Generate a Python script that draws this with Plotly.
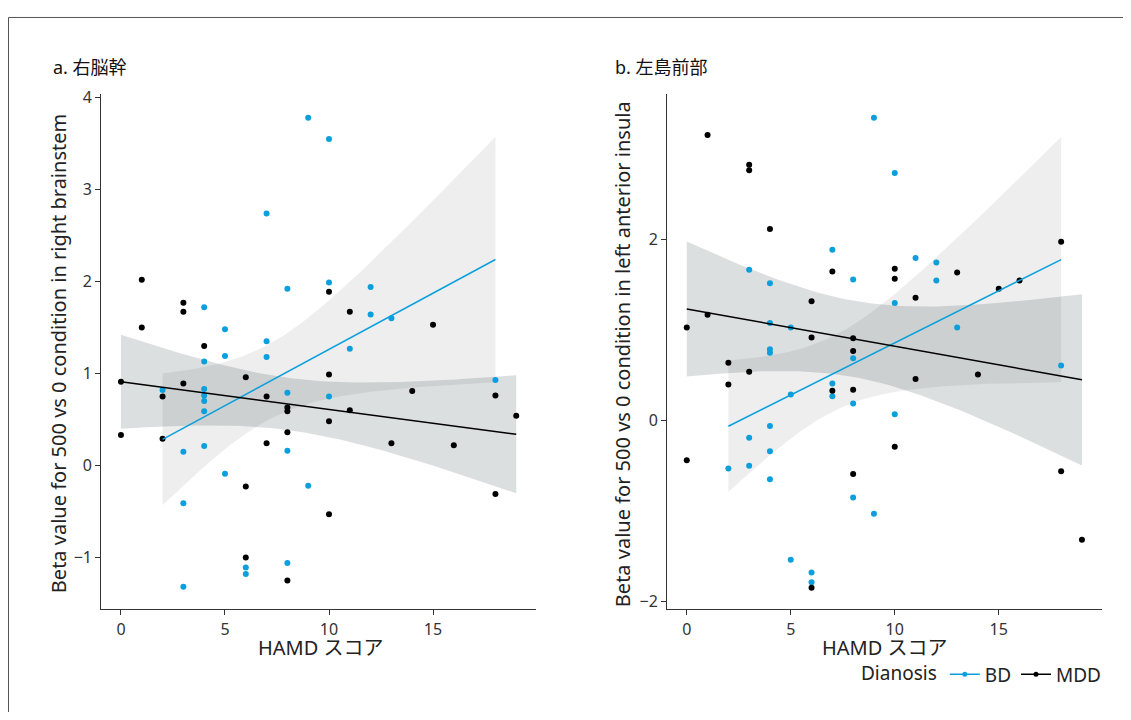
import numpy as np
import plotly.graph_objects as go
from plotly.subplots import make_subplots

# ---- data: panel a (right brainstem) ----
a_bd_x = [9, 7, 8, 4, 5, 7, 10, 10, 12, 12, 13, 11, 4, 5, 7, 2, 4, 4, 4, 4, 8, 3, 4, 8, 5, 9, 3, 6, 6, 8, 3, 10, 18]
a_bd_y = [3.78, 2.74, 1.92, 1.72, 1.48, 1.35, 3.55, 1.99, 1.94, 1.64, 1.60, 1.27, 1.13, 1.19, 1.18, 0.82, 0.83, 0.76,
          0.70, 0.59, 0.79, 0.15, 0.21, 0.16, -0.09, -0.22, -0.41, -1.11, -1.18, -1.06, -1.32, 0.75, 0.93]
a_mdd_x = [1, 3, 3, 1, 4, 10, 11, 15, 0, 2, 3, 6, 7, 8, 8, 0, 2, 7, 8, 6, 6, 8, 10, 11, 10, 13, 14, 16, 18, 19, 10, 18]
a_mdd_y = [2.02, 1.77, 1.67, 1.50, 1.30, 1.89, 1.67, 1.53, 0.91, 0.75, 0.89, 0.96, 0.75, 0.63, 0.59, 0.33, 0.29, 0.24,
           0.36, -0.23, -1.00, -1.25, 0.99, 0.60, 0.48, 0.24, 0.81, 0.22, 0.76, 0.54, -0.53, -0.31]

# ---- data: panel b (left anterior insula) ----
b_bd_x = [9, 7, 3, 4, 8, 4, 5, 4, 10, 11, 12, 12, 10, 13, 4, 8, 7, 7, 5, 8, 4, 3, 4, 2, 3, 4, 8, 9, 5, 6, 6, 18, 10]
b_bd_y = [3.35, 1.89, 1.67, 1.52, 1.56, 1.08, 1.03, 0.79, 2.74, 1.80, 1.75, 1.55, 1.30, 1.03, 0.75, 0.69, 0.41, 0.27,
          0.29, 0.19, -0.06, -0.19, -0.34, -0.53, -0.50, -0.65, -0.85, -1.03, -1.54, -1.68, -1.79, 0.61, 0.07]
b_mdd_x = [1, 3, 3, 4, 7, 6, 1, 0, 6, 8, 8, 10, 10, 11, 13, 15, 16, 18, 2, 3, 2, 7, 8, 0, 8, 6, 11, 14, 10, 18, 19]
b_mdd_y = [3.16, 2.83, 2.77, 2.12, 1.65, 1.32, 1.17, 1.03, 0.92, 0.91, 0.77, 1.68, 1.57, 1.36, 1.64, 1.46, 1.55, 1.98,
           0.64, 0.54, 0.40, 0.33, 0.34, -0.44, -0.59, -1.85, 0.46, 0.51, -0.29, -0.56, -1.32]

x_ticks = [0, 5, 10, 15]
a_y_ticks = [-1, 0, 1, 2, 3, 4]
b_y_ticks = [-2, 0, 2]
panel_titles = ["a. 右脳幹", "b. 左島前部"]
y_titles = ["Beta value for 500 vs 0 condition in right brainstem",
            "Beta value for 500 vs 0 condition in left anterior insula"]
x_title = "HAMD スコア"
groups = ["BD", "MDD"]

BLUE = "#0BA0DD"
BLACK = "#000000"
FILL = {"BD": "rgba(0,0,0,0.065)", "MDD": "rgba(10,25,25,0.14)"}
FONT = "Noto Sans, Noto Sans CJK JP, sans-serif"

# figure size (page body has an 8px margin)
W, H = 1115, 704
OFF = 8


def PX(px):
    return (px - OFF) / W


def PY(py):
    return 1 - (py - OFF) / H


def lm_fit(x, y):
    x = np.asarray(x, float)
    y = np.asarray(y, float)
    n = len(x)
    b1, b0 = np.polyfit(x, y, 1)
    resid = y - (b0 + b1 * x)
    s = np.sqrt(np.sum(resid ** 2) / (n - 2))
    xm = x.mean()
    sxx = np.sum((x - xm) ** 2)
    df = n - 2
    z = 1.959964
    t = z + (z ** 3 + z) / (4 * df) + (5 * z ** 5 + 16 * z ** 3 + 3 * z) / (96 * df ** 2)
    grid = np.linspace(x.min(), x.max(), 80)
    fit = b0 + b1 * grid
    se = s * np.sqrt(1 / n + (grid - xm) ** 2 / sxx)
    return grid, fit, fit - t * se, fit + t * se


fig = make_subplots(rows=1, cols=2)

panels = [
    (1, {"BD": (a_bd_x, a_bd_y), "MDD": (a_mdd_x, a_mdd_y)}),
    (2, {"BD": (b_bd_x, b_bd_y), "MDD": (b_mdd_x, b_mdd_y)}),
]

for col, data in panels:
    for g in groups:
        gx, gf, lo, hi = lm_fit(*data[g])
        fig.add_trace(go.Scatter(
            x=np.concatenate([gx, gx[::-1]]), y=np.concatenate([hi, lo[::-1]]),
            fill="toself", fillcolor=FILL[g], line=dict(width=0), mode="lines",
            hoverinfo="skip", showlegend=False), row=1, col=col)
    for g in groups:
        px, py = data[g]
        fig.add_trace(go.Scatter(
            x=px, y=py, mode="markers",
            marker=dict(color=BLUE if g == "BD" else BLACK, size=6),
            showlegend=False), row=1, col=col)
    for g in groups:
        gx, gf, lo, hi = lm_fit(*data[g])
        fig.add_trace(go.Scatter(
            x=gx, y=gf, mode="lines",
            line=dict(color=BLUE if g == "BD" else BLACK, width=1.5),
            showlegend=False), row=1, col=col)

for g in groups:
    fig.add_trace(go.Scatter(
        x=[None], y=[None], mode="lines+markers", name=g,
        line=dict(color=BLUE if g == "BD" else BLACK, width=1.5),
        marker=dict(color=BLUE if g == "BD" else BLACK, size=5)), row=1, col=1)

ydom = [PY(610), PY(87.5)]
axis_common = dict(showline=True, linecolor="#333333", linewidth=1, ticks="outside", ticklen=5,
                   tickcolor="#333333", showgrid=False, zeroline=False,
                   tickfont=dict(family=FONT, size=16, color="#333333"))

fig.update_xaxes(**axis_common, tickvals=x_ticks)
fig.update_yaxes(**axis_common)
fig.update_layout(
    xaxis=dict(domain=[PX(101.2), PX(536)], range=[-0.95, 19.95]),
    xaxis2=dict(domain=[PX(667), PX(1101.7)], range=[-0.95, 19.95]),
    yaxis=dict(domain=ydom, range=[-1.566, 4.035], tickvals=a_y_ticks),
    yaxis2=dict(domain=ydom, range=[-2.09, 3.61], tickvals=b_y_ticks),
)

ann = []
for i, (tx, yx, xc) in enumerate([(51, 58, 320.5), (613, 622, 885)]):
    ann.append(dict(text=panel_titles[i], x=PX(tx), y=PY(60), xref="paper", yref="paper",
                    xanchor="left", yanchor="middle", showarrow=False,
                    font=dict(family=FONT, size=18, color="#111111")))
    ann.append(dict(text=y_titles[i], x=PX(yx), y=PY(351), xref="paper", yref="paper",
                    textangle=-90, xanchor="center", yanchor="middle", showarrow=False,
                    font=dict(family=FONT, size=20, color="#222222")))
    ann.append(dict(text=x_title, x=PX(xc), y=PY(649), xref="paper", yref="paper",
                    xanchor="center", yanchor="middle", showarrow=False,
                    font=dict(family=FONT, size=20, color="#222222")))

fig.update_layout(
    width=W, height=H, margin=dict(l=0, r=0, t=0, b=0),
    paper_bgcolor="white", plot_bgcolor="white",
    annotations=ann,
    showlegend=True,
    legend=dict(orientation="h", x=PX(1106), xanchor="right", y=PY(676), yanchor="middle",
                title=dict(text="Dianosis", font=dict(family=FONT, size=19, color="#222222")),
                font=dict(family=FONT, size=19, color="#222222"), bgcolor="rgba(0,0,0,0)",
                itemwidth=30, tracegroupgap=0),
    shapes=[dict(type="rect", xref="paper", yref="paper", x0=PX(8.5), x1=1.2, y0=-0.2, y1=PY(9.5),
                 line=dict(color="#555555", width=1), fillcolor="rgba(0,0,0,0)", layer="below")],
)

fig.write_html("out.html")
